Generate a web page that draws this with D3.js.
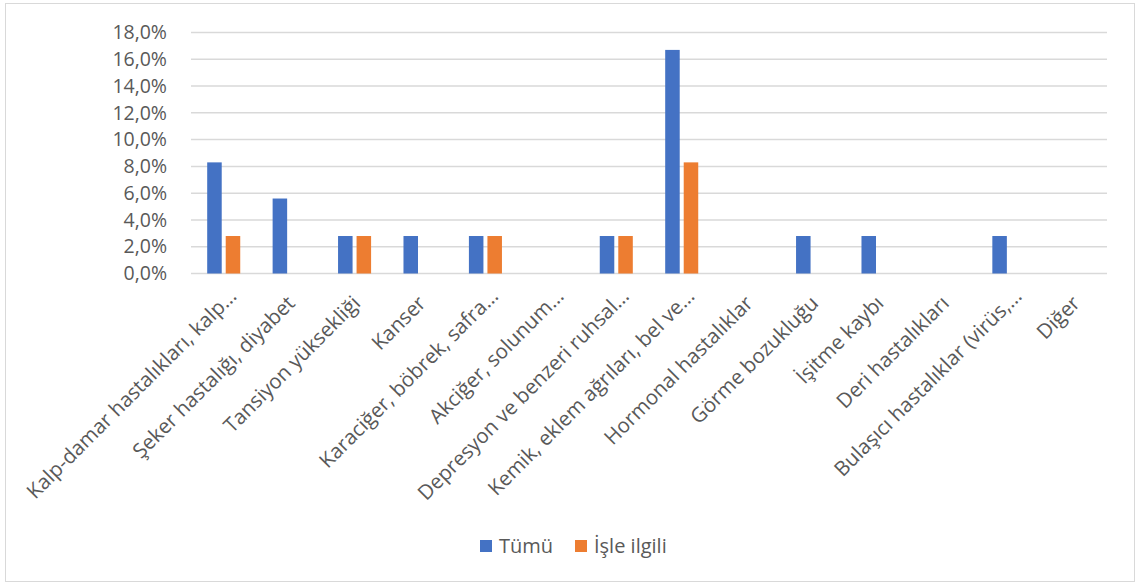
<!DOCTYPE html>
<html>
<head>
<meta charset="utf-8">
<script src="https://cdn.jsdelivr.net/npm/d3@7"></script>
<style>
  html, body { margin: 0; padding: 0; background: #ffffff; }
  svg { display: block; }
  text { font-family: "Open Sans", "Noto Sans", sans-serif; fill: #595959; }
</style>
</head>
<body>
<svg id="chart" width="1136" height="583"></svg>
<script>
// Disease categories (x axis)
const categories = [
  "Kalp-damar hastalıkları, kalp…",
  "Şeker hastalığı, diyabet",
  "Tansiyon yüksekliği",
  "Kanser",
  "Karaciğer, böbrek, safra…",
  "Akciğer, solunum…",
  "Depresyon ve benzeri ruhsal…",
  "Kemik, eklem ağrıları, bel ve…",
  "Hormonal hastalıklar",
  "Görme bozukluğu",
  "İşitme kaybı",
  "Deri hastalıkları",
  "Bulaşıcı hastalıklar (virüs,…",
  "Diğer"
];

// Series names
const seriesNames = ["Tümü", "İşle ilgili"];

// Shares in percent
const tumu      = [8.3, 5.6, 2.8, 2.8, 2.8, 0, 2.8, 16.7, 0, 2.8, 2.8, 0, 2.8, 0];
const isleIlgili = [2.8, 0, 2.8, 0, 2.8, 0, 2.8, 8.3, 0, 0, 0, 0, 0, 0];

// Y axis ticks
const yTicks = [0, 2, 4, 6, 8, 10, 12, 14, 16, 18];

const colors = ["#4472C4", "#ED7D31"];

const svg = d3.select("#chart");
const W = 1136, H = 583;

// Chart frame
svg.append("rect")
  .attr("x", 5.5).attr("y", 3.5)
  .attr("width", W - 7).attr("height", H - 5)
  .attr("fill", "#ffffff")
  .attr("stroke", "#d9d9d9")
  .attr("stroke-width", 1);

const plot = { left: 191, right: 1107, top: 32.5, bottom: 273.5 };

const trLocale = d3.formatLocale({ decimal: ",", thousands: ".", grouping: [3], currency: ["", " ₺"] });
const fmt = trLocale.format(".1f");

const y = d3.scaleLinear().domain([0, 18]).range([plot.bottom, plot.top]);

const x0 = d3.scaleBand()
  .domain(categories)
  .range([plot.left, plot.right])
  .paddingInner(0).paddingOuter(0);

const groupW = x0.bandwidth() * 0.505;
const x1 = d3.scaleBand()
  .domain(seriesNames)
  .range([(x0.bandwidth() - groupW) / 2, (x0.bandwidth() + groupW) / 2])
  .paddingInner(0.216).paddingOuter(0);

// Gridlines
svg.append("g")
  .selectAll("line")
  .data(yTicks)
  .join("line")
  .attr("x1", plot.left).attr("x2", plot.right)
  .attr("y1", d => y(d)).attr("y2", d => y(d))
  .attr("stroke", "#d9d9d9")
  .attr("stroke-width", 1.5);

// Y axis labels
const yAxis = d3.axisLeft(y)
  .tickValues(yTicks)
  .tickSize(0)
  .tickPadding(24)
  .tickFormat(d => fmt(d) + "%");

svg.append("g")
  .attr("transform", `translate(${plot.left},0)`)
  .call(yAxis)
  .call(g => g.select(".domain").remove())
  .call(g => g.selectAll("text")
    .attr("font-size", 19.5)
    .attr("font-family", "'Open Sans', sans-serif")
    .attr("fill", "#595959"));

// Bars
const seriesData = [tumu, isleIlgili];
const groups = svg.append("g")
  .selectAll("g")
  .data(categories)
  .join("g")
  .attr("transform", d => `translate(${x0(d)},0)`);

groups.selectAll("rect")
  .data((d, i) => seriesNames.map((s, k) => ({ s, v: seriesData[k][i], k })))
  .join("rect")
  .filter(d => d.v > 0)
  .attr("x", d => x1(d.s))
  .attr("width", x1.bandwidth())
  .attr("y", d => y(d.v))
  .attr("height", d => y(0) - y(d.v))
  .attr("fill", d => colors[d.k]);

// Category labels, rotated -45°
const xAxis = d3.axisBottom(x0).tickSize(0).tickPadding(0);
svg.append("g")
  .attr("transform", `translate(0,${plot.bottom})`)
  .call(xAxis)
  .call(g => g.select(".domain").remove())
  .call(g => g.selectAll("text")
    .attr("font-size", 20.5)
    .attr("font-family", "'Open Sans', sans-serif")
    .attr("fill", "#595959")
    .attr("text-anchor", "end")
    .attr("dy", null)
    .attr("y", null)
    .attr("transform", d => {
      const shift = d.endsWith("…") ? 10 : 0;
      return `translate(7,31) rotate(-45) translate(${shift},0)`;
    }));

// Legend
const legend = svg.append("g").attr("transform", "translate(480,0)");
const legendItems = [
  { name: seriesNames[0], color: colors[0], x: 0 },
  { name: seriesNames[1], color: colors[1], x: 95 }
];
const li = legend.selectAll("g").data(legendItems).join("g")
  .attr("transform", d => `translate(${d.x},0)`);
li.append("rect")
  .attr("x", 0).attr("y", 540)
  .attr("width", 12).attr("height", 12)
  .attr("fill", d => d.color);
li.append("text")
  .attr("x", 19).attr("y", 553)
  .attr("font-size", 20)
  .text(d => d.name);
</script>
</body>
</html>
